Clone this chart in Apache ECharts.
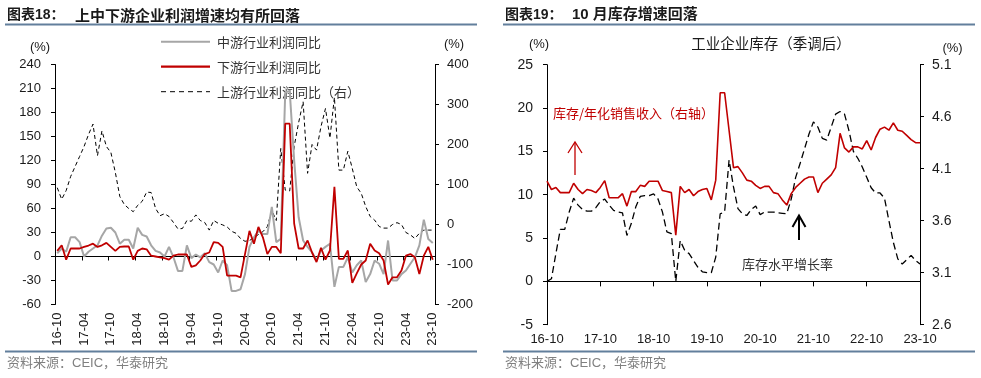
<!DOCTYPE html>
<html><head><meta charset="utf-8">
<script src="https://cdn.jsdelivr.net/npm/echarts/dist/echarts.min.js"></script>
<style>html,body{margin:0;padding:0;background:#fff}#c{width:981px;height:378px}</style>
</head><body><div id="c"></div><script>
const months = ['16-10','16-11','16-12','17-01','17-02','17-03','17-04','17-05','17-06','17-07','17-08','17-09',
'17-10','17-11','17-12','18-01','18-02','18-03','18-04','18-05','18-06','18-07','18-08','18-09',
'18-10','18-11','18-12','19-01','19-02','19-03','19-04','19-05','19-06','19-07','19-08','19-09',
'19-10','19-11','19-12','20-01','20-02','20-03','20-04','20-05','20-06','20-07','20-08','20-09',
'20-10','20-11','20-12','21-01','21-02','21-03','21-04','21-05','21-06','21-07','21-08','21-09',
'21-10','21-11','21-12','22-01','22-02','22-03','22-04','22-05','22-06','22-07','22-08','22-09',
'22-10','22-11','22-12','23-01','23-02','23-03','23-04','23-05','23-06','23-07','23-08','23-09','23-10'];

// Left panel (%), left axis
const midstream = [4,10,6,24,24,18,0,6,10,14,26,35,36,30,16,21,21,10,36,27,25,14,7,5,0,12,-1,-18,-18,14,
-2,2.5,-1,4,-7,-10,-20,-5,-11,-43,-43,-41,-22,12,24,32,28,28,62,18,22,205,207,120,49,20,12,5,-5,7.5,
12,16,-38,-13,-13,-1,-20,-11,-5,-32,-22,-5,-9,-22,20,-30,-30,-22,-17.5,-9,-1,14,46,22,17];
const downstream = [7,14,-4,10,10,10,12,13.7,16,12,14,17,12,7,12,12.5,12.5,-4,7,10,9,1,0,-1,-2,-4,1,2.5,2.5,2.5,
-13,-11,-5,3,5,18,17,12,-24,-24,-24,-26,3,32,16,37,24,3,12,12,4,166,166,41,10,10,20,5,-7,11,
-4,7.5,87,-3,-3,7.5,-33,-21,-10,-5,16,7.5,4,-5,-35,-26,-26,-17.5,1,3,-1,-22,1,12,-4];
// Left panel (%), right axis
const upstream = [92,63,85,120,145,170,195,225,251,172,234,195,180,130,70,50,40,32,48,58,81,80,40,22,27,20,5,-11,-10,10,
8,24,10,5,-14,10,3,-1,-6,-17,-22,-35,-42,-40,-33,-25,-18,-5,35,10,190,86,84,195,255,307,128,200,186,245,
290,216,318,136,136,183,140,94,78,45,20,11,-5,-9,-9,0,4.6,0,-20,-26,-35,-22,-14,-14,-14];

// Right panel
const invGrowth = [0,0.3,3.2,6,6,8,9.6,8.8,8.3,8.1,8.1,8.5,9.2,9.5,8.8,8.2,8,7.9,5.3,6.7,8.6,9.8,9.9,9.9,10.1,9.5,8,5.7,5.5,0,
4.7,3.6,3.2,2.4,1.6,1.1,1,1,2.8,7.8,8,14,10.9,8.4,7.8,7.6,8.3,8.7,7.7,8,8,8,7.9,7.85,7.8,9.5,12,13.6,15.3,17,
18.4,17.8,16.5,16.3,17.8,19.3,19.6,19.3,17.4,15,14.2,13.2,12,10.8,10.2,10.2,9.6,7,4.5,2.6,2,2.5,3,2.4,2];
const invRatio = [3.98,3.90,3.92,3.87,3.87,3.87,3.96,3.90,3.86,3.90,3.89,3.87,3.92,3.985,3.82,3.82,3.82,3.86,3.74,3.88,
3.88,3.94,3.93,3.98,3.98,3.98,3.89,3.88,3.87,3.46,3.93,3.87,3.90,3.84,3.88,3.90,3.91,3.80,3.99,4.83,
4.83,4.47,4.11,4.12,4.06,3.99,3.98,3.94,3.91,3.93,3.93,3.87,3.86,3.80,3.75,3.86,3.92,3.96,4.00,4.02,
4.02,3.87,3.96,4.00,4.04,4.11,4.44,4.30,4.26,4.31,4.31,4.29,4.37,4.28,4.40,4.48,4.50,4.47,4.54,4.47,
4.46,4.42,4.38,4.35,4.35];
const rightTicks = [2.6,3.1,3.6,4.1,4.6,5.1];
const legendNames = ['中游行业利润同比', '下游行业利润同比', '上游行业利润同比（右）'];

const FONT = "'Liberation Sans', Arial, 'Noto Sans CJK SC', sans-serif";
const CJK = "'Noto Sans CJK SC', 'Liberation Sans', sans-serif";
const axTxt = {fontFamily: FONT, fontSize: 13, color: '#1a1a1a'};
const blk = {color: '#000', width: 1};
const RULE = '#627f9c';

function txt(x, y, text, size, color, opt) {
  return {type: 'text', x: x, y: y, silent: true,
    style: Object.assign({text: text, fontSize: size, fontFamily: FONT, fill: color,
      align: 'left', verticalAlign: 'middle'}, opt || {})};
}
function ln(x1, y1, x2, y2, color, w, dash) {
  const st = {stroke: color, lineWidth: w};
  if (dash) st.lineDash = dash;
  return {type: 'line', silent: true, shape: {x1, y1, x2, y2}, style: st};
}
function poly(pts, color, w) {
  return {type: 'polyline', silent: true, shape: {points: pts}, style: {stroke: color, lineWidth: w, fill: null}};
}

const chart = echarts.init(document.getElementById('c'), null, {renderer: 'canvas'});
chart.setOption({
  animation: false,
  backgroundColor: '#fff',
  grid: [
    {left: 55, top: 64.5, width: 380, height: 240},
    {left: 547, top: 64.7, width: 373, height: 260}
  ],
  xAxis: [
    {gridIndex: 0, type: 'category', data: months, boundaryGap: true,
     axisLine: {onZero: true, onZeroAxisIndex: 0, lineStyle: blk},
     axisTick: {show: true, interval: 5, length: 4, lineStyle: blk},
     axisLabel: {show: false}, splitLine: {show: false}},
    {gridIndex: 0, type: 'category', data: months, boundaryGap: true, position: 'bottom',
     axisLine: {show: false, onZero: false}, axisTick: {show: false},
     axisLabel: Object.assign({interval: 5, rotate: 90, margin: 8}, axTxt), splitLine: {show: false}},
    {gridIndex: 1, type: 'category', data: months, boundaryGap: false,
     axisLine: {onZero: true, onZeroAxisIndex: 2, lineStyle: blk},
     axisTick: {show: true, interval: 11, length: 5, lineStyle: blk},
     axisLabel: {show: false}, splitLine: {show: false}},
    {gridIndex: 1, type: 'category', data: months, boundaryGap: false, position: 'bottom',
     axisLine: {show: false, onZero: false}, axisTick: {show: false},
     axisLabel: Object.assign({interval: 11, margin: 8}, axTxt), splitLine: {show: false}}
  ],
  yAxis: [
    {gridIndex: 0, type: 'value', position: 'left', min: -60, max: 240, interval: 30,
     axisLine: {show: true, onZero: false, lineStyle: blk}, axisTick: {show: true, length: 4, lineStyle: blk},
     axisLabel: Object.assign({margin: 14}, axTxt), splitLine: {show: false}},
    {gridIndex: 0, type: 'value', position: 'right', min: -200, max: 400, interval: 100,
     axisLine: {show: true, onZero: false, lineStyle: blk}, axisTick: {show: true, length: 4, lineStyle: blk},
     axisLabel: Object.assign({margin: 12}, axTxt), splitLine: {show: false}},
    {gridIndex: 1, type: 'value', position: 'left', min: -5, max: 25, interval: 5,
     axisLine: {show: true, onZero: false, lineStyle: blk}, axisTick: {show: true, length: 4, lineStyle: blk},
     axisLabel: Object.assign({margin: 14}, axTxt, {fontSize: 14}), splitLine: {show: false}},
    {gridIndex: 1, type: 'value', position: 'right', min: 2.6, max: 5.1, interval: 0.5,
     axisLine: {show: true, onZero: false, lineStyle: blk},
     axisTick: {show: true, length: 4, lineStyle: blk, customValues: rightTicks},
     axisLabel: Object.assign({margin: 12, customValues: rightTicks,
       formatter: function (v) { return Number(v).toFixed(1); }}, axTxt, {fontSize: 14}),
     splitLine: {show: false}}
  ],
  series: [
    {name: legendNames[2], type: 'line', xAxisIndex: 0, yAxisIndex: 1, data: upstream,
     symbol: 'none', z: 2, itemStyle: {color: '#000'}, lineStyle: {color: '#000', width: 1, type: [4, 3]}},
    {name: legendNames[0], type: 'line', xAxisIndex: 0, yAxisIndex: 0, data: midstream,
     symbol: 'none', z: 3, itemStyle: {color: '#a6a6a6'}, lineStyle: {color: '#a6a6a6', width: 2}},
    {name: legendNames[1], type: 'line', xAxisIndex: 0, yAxisIndex: 0, data: downstream,
     symbol: 'none', z: 4, itemStyle: {color: '#c00000'}, lineStyle: {color: '#c00000', width: 1.8}},
    {name: '库存水平增长率', type: 'line', xAxisIndex: 2, yAxisIndex: 2, data: invGrowth,
     symbol: 'none', z: 2, itemStyle: {color: '#000'}, lineStyle: {color: '#000', width: 1.3, type: [7, 4]}},
    {name: '库存/年化销售收入', type: 'line', xAxisIndex: 2, yAxisIndex: 3, data: invRatio,
     symbol: 'none', z: 3, itemStyle: {color: '#c00000'}, lineStyle: {color: '#c00000', width: 1.6}}
  ],
  graphic: [
    // left panel frame texts
    txt(7, 15, '图表18：', 14, '#1a1a1a', {fontWeight: 'bold'}),
    txt(75, 15, '上中下游企业利润增速均有所回落', 15, '#1a1a1a', {fontWeight: 'bold', fontFamily: CJK}),
    ln(5, 24.5, 477, 24.5, RULE, 2),
    ln(5, 351.5, 477, 351.5, RULE, 2),
    txt(7, 363, '资料来源：CEIC，华泰研究', 13, '#808080'),
    txt(40, 47.5, '(%)', 13, '#1a1a1a', {align: 'center'}),
    txt(454, 44.5, '(%)', 13, '#1a1a1a', {align: 'center'}),
    // legend
    ln(161, 41.7, 210, 41.7, '#a6a6a6', 2),
    txt(217, 41.7, legendNames[0], 13, '#333', {fontFamily: CJK}),
    ln(161, 66.7, 210, 66.7, '#c00000', 2.2),
    txt(217, 66.7, legendNames[1], 13, '#333', {fontFamily: CJK}),
    ln(161, 91.7, 210, 91.7, '#000', 1, [5, 4]),
    txt(217, 91.7, legendNames[2], 13, '#333', {fontFamily: CJK}),
    // right panel frame texts
    txt(505, 15, '图表19：', 14, '#1a1a1a', {fontWeight: 'bold'}),
    txt(572, 15, '10 月库存增速回落', 15, '#1a1a1a', {fontWeight: 'bold'}),
    ln(503, 24.5, 975, 24.5, RULE, 2),
    ln(503, 351.5, 975, 351.5, RULE, 2),
    txt(505, 363, '资料来源：CEIC，华泰研究', 13, '#808080'),
    txt(539, 44, '(%)', 13, '#1a1a1a', {align: 'center'}),
    txt(952.5, 48, '(%)', 13, '#1a1a1a', {align: 'center'}),
    txt(771, 43.5, '工业企业库存（季调后）', 14.5, '#1a1a1a', {align: 'center', fontFamily: CJK}),
    txt(553, 112.7, '库存/年化销售收入（右轴）', 13, '#c00000', {fontFamily: CJK}),
    txt(742, 264, '库存水平增长率', 13, '#333', {fontFamily: CJK}),
    // arrows
    ln(575, 175, 575, 142.5, '#c00000', 1.3),
    poly([[568, 153], [575, 142], [582, 153]], '#c00000', 1.3),
    ln(799, 240, 799, 216, '#000', 2),
    poly([[792.5, 227], [799, 215.5], [805.5, 227]], '#000', 2)
  ]
});
</script></body></html>
